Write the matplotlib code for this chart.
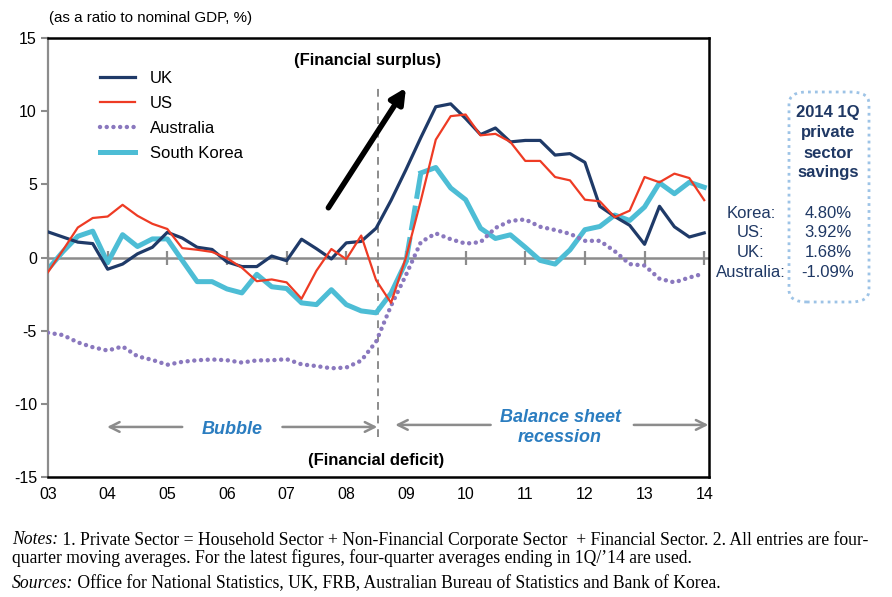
import numpy as np
import matplotlib.pyplot as plt
from matplotlib.patches import FancyBboxPatch

plt.rcParams['font.family'] = ['Liberation Sans', 'DejaVu Sans']

# quarterly, 2003Q1 .. 2014Q1
quarters = 2003 + np.arange(45) / 4
year_ticks = list(range(2003, 2015))
year_labels = ['03', '04', '05', '06', '07', '08', '09', '10', '11', '12', '13', '14']
y_ticks = [-15, -10, -5, 0, 5, 10, 15]

uk = [1.75, 1.4, 1.05, 0.95, -0.8, -0.45, 0.25, 0.7, 1.72,
      1.33, 0.7, 0.55, -0.3, -0.62, -0.62, 0.1, -0.22, 1.25, 0.6, -0.1,
      1.0, 1.1, 2.0, 3.9, 6.0, 8.2, 10.3, 10.5, 9.5, 8.4,
      8.85, 7.9, 8.0, 8.0, 7.0, 7.1, 6.5, 3.5, 2.8, 2.2,
      0.9, 3.5, 2.1, 1.4, 1.68]
us = [-1.0, 0.5, 2.05, 2.7, 2.8, 3.6, 2.85, 2.3, 1.95,
      0.64, 0.53, 0.38, -0.05, -0.7, -1.62, -1.5, -1.7, -2.82, -0.9, 0.58,
      -0.12, 1.5, -1.55, -3.1, 0.0, 3.9, 8.05, 9.66, 9.77, 8.35,
      8.45, 7.9, 6.6, 6.6, 5.5, 5.27, 3.95, 3.84, 2.75, 3.2,
      5.5, 5.14, 5.73, 5.43, 3.92]
australia = [-5.14, -5.3, -5.8, -6.13, -6.36, -6.08, -6.75, -7.0, -7.33,
             -7.13, -7.02, -6.97, -7.02, -7.18, -7.03, -7.02, -6.95, -7.3, -7.42, -7.57,
             -7.52, -7.05, -5.75, -3.3, -1.2, 1.05, 1.65, 1.25, 0.95, 1.05,
             2.02, 2.5, 2.6, 2.1, 1.88, 1.62, 1.14, 1.14, 0.43, -0.45,
             -0.55, -1.45, -1.7, -1.37, -1.09]
korea = [-0.8, 0.4, 1.45, 1.8, -0.35, 1.56, 0.75, 1.27, 1.27,
         -0.2, -1.65, -1.65, -2.15, -2.42, -1.15, -2.0, -2.12, -3.1, -3.22, -2.2,
         -3.22, -3.65, -3.78, -2.44, -0.3, 5.78, 6.15, 4.75, 3.95, 2.0,
         1.3, 1.55, 0.7, -0.2, -0.45, 0.52, 1.9, 2.12, 2.9, 2.53,
         3.45, 5.1, 4.36, 5.14, 4.80]
korea_break = 24  # gap in the Korean series drawn dashed

latest_names = ['Korea:', 'US:', 'UK:', 'Australia:']
latest_values = ['4.80%', '3.92%', '1.68%', '-1.09%']

UK_C = '#1F3A68'
US_C = '#EE3B24'
AU_C = '#8A78BE'
KR_C = '#4DBDD5'
GRAY = '#8C8C8C'
NAVY = '#1F3864'
BLUE_TXT = '#2B7DC0'

W, H = 892, 597
fig = plt.figure(figsize=(W / 100, H / 100), dpi=100)
ax = fig.add_axes([48 / W, 1 - 477 / H, 661 / W, 439 / H])


def fx(px):
    return px / W


def fy(py):
    return 1 - py / H


ax.axhline(0, color=GRAY, lw=1.8, zorder=1)
ax.plot(year_ticks, [0] * len(year_ticks), ls='none', marker='|', ms=10, mew=1.6,
        color=GRAY, zorder=1)

l_uk, = ax.plot(quarters, uk, color=UK_C, lw=2.3, label='UK', zorder=4)
l_us, = ax.plot(quarters, us, color=US_C, lw=1.6, label='US', zorder=5)
l_au, = ax.plot(quarters, australia, color=AU_C, lw=3.2, ls=(0, (0.01, 1.5)),
                dash_capstyle='round', label='Australia', zorder=3)
l_kr, = ax.plot(quarters[:korea_break + 1], korea[:korea_break + 1], color=KR_C,
                lw=3.6, label='South Korea', zorder=2)
ax.plot(quarters[korea_break:korea_break + 2], korea[korea_break:korea_break + 2],
        color=KR_C, lw=3.6, ls=(0, (5, 1.4)), zorder=2)
ax.plot(quarters[korea_break + 1:], korea[korea_break + 1:], color=KR_C, lw=3.6, zorder=2)

ax.set_xlim(2003, 2014.08)
ax.set_ylim(-15, 15)
ax.set_xticks(year_ticks)
ax.set_xticklabels(year_labels)
ax.set_yticks(y_ticks)
ax.set_yticklabels([str(v) for v in y_ticks])
ax.tick_params(axis='x', length=0, pad=7, labelsize=11.5)
ax.tick_params(axis='y', direction='out', length=5, width=1.5, color=GRAY, labelsize=11.5, pad=3)

for side in ['top', 'bottom', 'right']:
    ax.spines[side].set_color('black')
    ax.spines[side].set_linewidth(1.8)
ax.spines['left'].set_color(GRAY)
ax.spines['left'].set_linewidth(1.6)

leg = ax.legend(handles=[l_uk, l_us, l_au, l_kr], loc='upper left',
                bbox_to_anchor=(0.078, 0.925), frameon=False, fontsize=12,
                handlelength=2.1, handletextpad=0.9, labelspacing=0.6,
                borderpad=0, borderaxespad=0)

# crisis marker and arrows
ax.vlines(2008.54, -12.3, 11.6, colors=GRAY, linestyles=(0, (4, 3)), lw=1.4, zorder=1)
ax.annotate('', xy=(2009.0, 11.6), xytext=(2007.7, 3.4),
            arrowprops=dict(arrowstyle='-|>,head_length=0.9,head_width=0.45',
                            lw=4, color='black', shrinkA=0, shrinkB=0))

arrow_kw = dict(arrowstyle='->,head_length=0.7,head_width=0.35', lw=1.8, color=GRAY,
                shrinkA=0, shrinkB=0)
ax.annotate('', xy=(2003.99, -11.58), xytext=(2005.25, -11.58), arrowprops=arrow_kw)
ax.annotate('', xy=(2008.52, -11.58), xytext=(2006.93, -11.58), arrowprops=arrow_kw)
ax.annotate('', xy=(2008.82, -11.44), xytext=(2010.42, -11.44), arrowprops=arrow_kw)
ax.annotate('', xy=(2014.07, -11.44), xytext=(2012.82, -11.44), arrowprops=arrow_kw)

fig.text(fx(232), fy(430), 'Bubble', ha='center', va='center', color=BLUE_TXT,
         fontsize=13, fontweight='bold', fontstyle='italic')
fig.text(fx(561), fy(417), 'Balance sheet', ha='center', va='center', color=BLUE_TXT,
         fontsize=13, fontweight='bold', fontstyle='italic')
fig.text(fx(560), fy(437), 'recession', ha='center', va='center', color=BLUE_TXT,
         fontsize=13, fontweight='bold', fontstyle='italic')
fig.text(fx(368), fy(60), '(Financial surplus)', ha='center', va='center',
         fontsize=12, fontweight='bold')
fig.text(fx(376), fy(460), '(Financial deficit)', ha='center', va='center',
         fontsize=12, fontweight='bold')
fig.text(fx(49), fy(18), '(as a ratio to nominal GDP, %)', ha='left', va='center',
         fontsize=10.9)

# right hand box
box = FancyBboxPatch((fx(789), fy(302)), fx(80), fy(92) - fy(302),
                     boxstyle='round,pad=0,rounding_size=0.02', transform=fig.transFigure,
                     fill=False, edgecolor='#9DC3E6', lw=2, ls=(0, (1, 1.5)))
fig.add_artist(box)
for i, word in enumerate(['2014 1Q', 'private', 'sector', 'savings']):
    fig.text(fx(828), fy(113 + 20 * i), word, ha='center', va='center', color=NAVY,
             fontsize=12, fontweight='bold')
for i, (name, val) in enumerate(zip(latest_names, latest_values)):
    fig.text(fx(751), fy(213 + 19.7 * i), name, ha='center', va='center', color=NAVY,
             fontsize=12)
    fig.text(fx(828), fy(213 + 19.7 * i), val, ha='center', va='center', color=NAVY,
             fontsize=12)

# notes
serif = ['Liberation Serif', 'DejaVu Serif']
note_lines = [
    ('Notes:', ' 1. Private Sector = Household Sector + Non-Financial Corporate Sector  + '
               'Financial Sector. 2. All entries are four-', 540),
    ('', 'quarter moving averages. For the latest figures, four-quarter averages ending '
         'in 1Q/\u201914 are used.', 558),
    ('Sources:', ' Office for National Statistics, UK, FRB, Australian Bureau of Statistics '
                 'and Bank of Korea.', 584),
]
fig.canvas.draw()
renderer = fig.canvas.get_renderer()
for head, body, ypix in note_lines:
    x0 = 12
    if head:
        t = fig.text(fx(x0), fy(ypix), head, ha='left', va='center', fontsize=12.7,
                     family=serif, fontstyle='italic')
        x0 = t.get_window_extent(renderer).x1
    fig.text(fx(x0), fy(ypix), body, ha='left', va='center', fontsize=12.7, family=serif)

fig.savefig('out.png', dpi=100)
